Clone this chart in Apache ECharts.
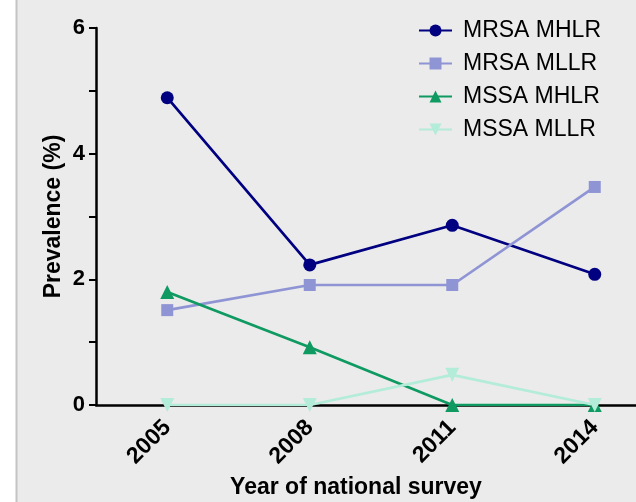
<!DOCTYPE html>
<html>
<head>
<meta charset="utf-8">
<script src="https://cdn.jsdelivr.net/npm/echarts@6/dist/echarts.min.js"></script>
<style>html,body{margin:0;padding:0;background:#fff;}#c{width:636px;height:502px;}</style>
</head>
<body>
<div id="c"></div>
<script>
const categories = ['2005', '2008', '2011', '2014'];
const mrsaMHLR = [4.89, 2.23, 2.86, 2.08];
const mrsaMLLR = [1.51, 1.91, 1.91, 3.47];
const mssaMHLR = [1.80, 0.92, 0, 0];
const mssaMLLR = [0, 0, 0.48, 0];
const seriesNames = ['MRSA MHLR', 'MRSA MLLR', 'MSSA MHLR', 'MSSA MLLR'];
const yTicks = [0, 2, 4, 6];

const chart = echarts.init(document.getElementById('c'), null, {renderer: 'canvas'});
const font = 'Arial, "Liberation Sans", sans-serif';
function mk(name, data, color, symbol, size, rot) {
  return {
    name, type: 'line', data, symbol, symbolSize: size, symbolRotate: rot || 0,
    lineStyle: {color, width: 2.7}, itemStyle: {color},
    emphasis: {disabled: true}, z: 3
  };
}
chart.setOption({
  backgroundColor: '#ffffff',
  animation: false,
  graphic: [
    {type: 'rect', shape: {x: 17, y: 0, width: 619, height: 502}, style: {fill: '#ebebeb'}, z: -10, silent: true},
    {type: 'line', shape: {x1: 16.5, y1: 0, x2: 16.5, y2: 502}, style: {stroke: '#c4c4c4', lineWidth: 2}, z: -9, silent: true}
  ],
  grid: {left: 96, top: 28, width: 570, bottom: 97, outerBoundsMode: 'none', containLabel: false},
  legend: {
    left: 413, top: 14, orient: 'vertical', itemGap: 10, itemWidth: 33, itemHeight: 15,
    textStyle: {fontFamily: font, fontSize: 23, color: '#000', padding: [0, 0, 0, 6]},
    data: seriesNames
  },
  xAxis: {
    type: 'category', data: categories, boundaryGap: true,
    axisLine: {lineStyle: {color: '#000', width: 2.5}},
    axisTick: {show: true, alignWithLabel: true, length: 3, lineStyle: {color: '#000', width: 2}},
    axisLabel: {rotate: 45, fontFamily: font, fontWeight: 'bold', fontSize: 23, color: '#000', margin: 19},
    name: 'Year of national survey', nameLocation: 'middle', nameGap: 71, nameMoveOverlap: false,
    nameTextStyle: {fontFamily: font, fontWeight: 'bold', fontSize: 23, color: '#000', padding: [0, 50, 0, 0]},
    splitLine: {show: false}
  },
  yAxis: {
    type: 'value', min: 0, max: 6, interval: 1,
    axisLine: {show: true, lineStyle: {color: '#000', width: 2.5}},
    axisTick: {show: true, length: 7, lineStyle: {color: '#000', width: 2}},
    axisLabel: {fontFamily: font, fontWeight: 'bold', fontSize: 22, color: '#000', margin: 11,
      formatter: v => (yTicks.indexOf(v) >= 0 ? String(v) : '')},
    name: 'Prevalence (%)', nameLocation: 'middle', nameGap: 31, nameRotate: 90, nameMoveOverlap: false,
    nameTextStyle: {fontFamily: font, fontWeight: 'bold', fontSize: 23, color: '#000'},
    splitLine: {show: false}
  },
  series: [
    mk(seriesNames[0], mrsaMHLR, '#000080', 'circle', 13),
    mk(seriesNames[1], mrsaMLLR, '#8f94d4', 'rect', 12),
    mk(seriesNames[2], mssaMHLR, '#0f9a62', 'triangle', 14),
    mk(seriesNames[3], mssaMLLR, '#b3ecd8', 'triangle', 14, 180)
  ]
});
</script>
</body>
</html>
